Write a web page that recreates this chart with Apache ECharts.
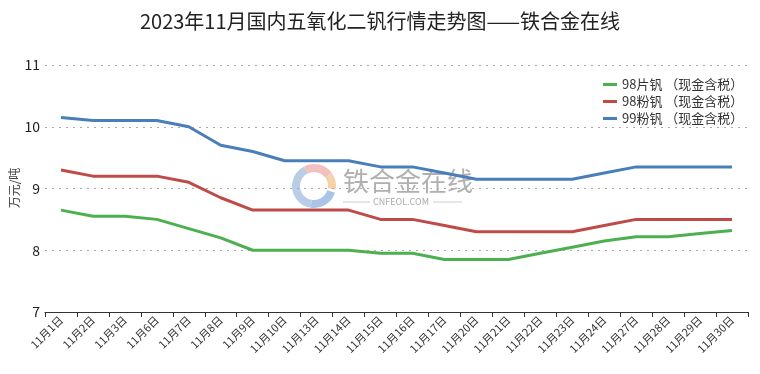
<!DOCTYPE html>
<html><head><meta charset="utf-8">
<script src="https://cdn.jsdelivr.net/npm/echarts@6/dist/echarts.min.js"></script>
<style>html,body{margin:0;padding:0;background:#fff}#c{width:760px;height:374px}</style>
</head><body><div id="c"></div>
<script>
const categories = ['11月1日','11月2日','11月3日','11月6日','11月7日','11月8日','11月9日','11月10日','11月13日','11月14日','11月15日','11月16日','11月17日','11月20日','11月21日','11月22日','11月23日','11月24日','11月27日','11月28日','11月29日','11月30日'];
const flake98 = [8.65,8.55,8.55,8.5,8.35,8.2,8.0,8.0,8.0,8.0,7.95,7.95,7.85,7.85,7.85,7.95,8.05,8.15,8.22,8.22,8.27,8.32];
const powder98 = [9.3,9.2,9.2,9.2,9.1,8.85,8.65,8.65,8.65,8.65,8.5,8.5,8.4,8.3,8.3,8.3,8.3,8.4,8.5,8.5,8.5,8.5];
const powder99 = [10.15,10.1,10.1,10.1,10.0,9.7,9.6,9.45,9.45,9.45,9.35,9.35,9.25,9.15,9.15,9.15,9.15,9.25,9.35,9.35,9.35,9.35];
const seriesNames = ['98片钒 （现金含税）','98粉钒 （现金含税）','99粉钒 （现金含税）'];
const yTicks = [7,8,9,10,11];
const yName = '万元/吨';

const font = '"Noto Sans CJK SC", "Noto Sans", sans-serif';
const chart = echarts.init(document.getElementById('c'));
const colors = ['#4CAF50','#BE4B48','#4A7EBB'];
chart.setOption({
  animation:false,
  textStyle:{fontFamily:font},
  title:{text:'2023年11月国内五氧化二钒行情走势图——铁合金在线',left:'center',top:6,
    textStyle:{fontFamily:font,fontSize:20,fontWeight:'normal',color:'#222'}},
  legend:{orient:'vertical',left:598,top:73,itemWidth:14,itemHeight:3,itemGap:4,icon:'rect',
    textStyle:{fontFamily:font,fontSize:13,color:'#333'},data:seriesNames},
  grid:{left:45,right:12,top:65,bottom:62,outerBoundsMode:'none',containLabel:false},
  xAxis:{type:'category',data:categories,boundaryGap:true,
    axisLine:{lineStyle:{color:'#333',width:1}},
    axisTick:{show:true,alignWithLabel:false,length:5,lineStyle:{color:'#333'}},
    axisLabel:{rotate:45,fontSize:11,color:'#333',margin:6,interval:0,fontFamily:font}},
  yAxis:{type:'value',min:yTicks[0],max:yTicks[yTicks.length-1],interval:1,
    axisLine:{show:false},axisTick:{show:false},
    axisLabel:{fontSize:14,color:'#222',margin:5,fontFamily:font},
    splitLine:{lineStyle:{type:[2,5],color:'#aaa'}}},
  graphic:[
    {type:'text',x:14,y:188,rotation:Math.PI/2,silent:true,
      style:{text:yName,font:'12px '+font,fill:'#444',align:'center',verticalAlign:'middle'}},
    {type:'group',left:292,top:164,silent:true,children:[
      {type:'arc',shape:{cx:22,cy:22,r:18,startAngle:Math.PI*0.55,endAngle:Math.PI*1.35},style:{stroke:'#b9cde6',lineWidth:8,fill:null}},
      {type:'arc',shape:{cx:22,cy:22,r:18,startAngle:Math.PI*1.35,endAngle:Math.PI*1.8},style:{stroke:'#f2c0be',lineWidth:8,fill:null}},
      {type:'arc',shape:{cx:22,cy:22,r:18,startAngle:Math.PI*1.8,endAngle:Math.PI*2.05},style:{stroke:'#f6d2a8',lineWidth:8,fill:null}},
      {type:'arc',shape:{cx:22,cy:22,r:18,startAngle:Math.PI*0.1,endAngle:Math.PI*0.55},style:{stroke:'#a9c4e6',lineWidth:8,fill:null}}
    ]},
    {type:'text',left:343,top:168,silent:true,style:{text:'铁合金在线',font:'26px '+font,fill:'#b0b0b0'}},
    {type:'line',silent:true,shape:{x1:343,y1:202,x2:370,y2:202},style:{stroke:'#ccc',lineWidth:1}},
    {type:'text',left:373,top:197,silent:true,style:{text:'CNFEOL.COM',font:'9px '+font,fill:'#aaa'}},
    {type:'line',silent:true,shape:{x1:433,y1:202,x2:462,y2:202},style:{stroke:'#ccc',lineWidth:1}}
  ],
  series:[flake98,powder98,powder99].map((d,i)=>({
    name:seriesNames[i],type:'line',data:d,showSymbol:false,symbol:'none',
    lineStyle:{width:3,color:colors[i]},itemStyle:{color:colors[i]},z:3
  }))
});
</script></body></html>
